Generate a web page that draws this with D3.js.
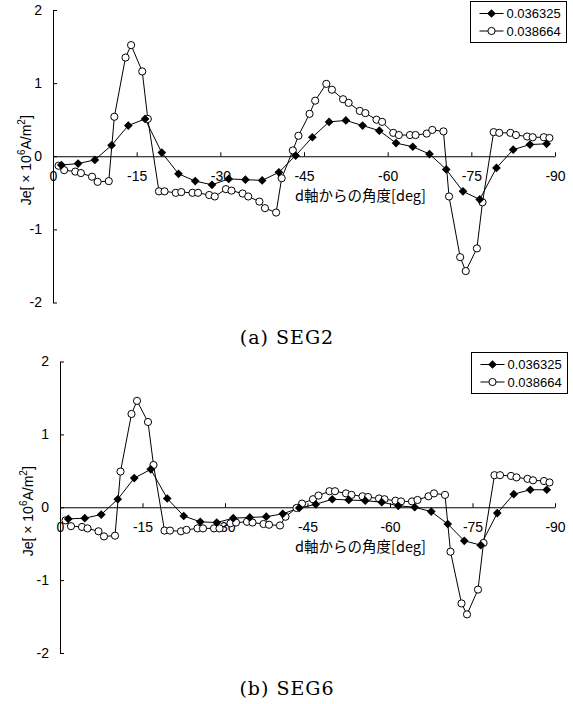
<!DOCTYPE html>
<html>
<head>
<meta charset="utf-8">
<script src="https://cdn.jsdelivr.net/npm/d3@7"></script>
<style>
  body { margin: 0; background: #fff; }
  svg { display: block; }
  .tick text { font-family: "Liberation Sans", Arial, sans-serif; font-size: 14px; }
</style>
</head>
<body>
<svg id="chart" width="573" height="704"></svg>
<script>
// angles of the two series (deg from d axis)
var anglesDiamond = [-1.5, -4.5, -7.5, -10.5, -13.5, -16.5, -19.5, -22.5, -25.5, -28.5,
  -31.5, -34.5, -37.5, -40.5, -43.5, -46.5, -49.5, -52.5, -55.5, -58.5,
  -61.5, -64.5, -67.5, -70.5, -73.5, -76.5, -79.5, -82.5, -85.5, -88.5];

var anglesCircle = [-1, -2, -4, -5, -7, -8, -10, -11, -13, -14, -16, -17, -19, -20,
  -22, -23, -25, -26, -28, -29, -31, -32, -34, -35, -37, -38, -40, -41, -43, -44,
  -46, -47, -49, -50, -52, -53, -55, -56, -58, -59, -61, -62, -64, -65, -67, -68,
  -70, -71, -73, -74, -76, -77, -79, -80, -82, -83, -85, -86, -88, -89];

// (a) SEG2
var seg2Diamond = [-0.12, -0.10, -0.05, 0.15, 0.42, 0.51, 0.05, -0.24, -0.34, -0.39,
  -0.31, -0.32, -0.33, -0.22, 0.01, 0.26, 0.47, 0.49, 0.42, 0.35,
  0.18, 0.13, 0.03, -0.18, -0.48, -0.59, -0.16, 0.09, 0.16, 0.17];

var seg2Circle = [-0.13, -0.19, -0.21, -0.23, -0.28, -0.35, -0.34, 0.54, 1.35, 1.52,
  1.16, 0.51, -0.48, -0.48, -0.50, -0.49, -0.50, -0.50, -0.53, -0.55,
  -0.45, -0.47, -0.51, -0.55, -0.62, -0.71, -0.77, -0.30, 0.08, 0.28,
  0.58, 0.76, 0.99, 0.91, 0.78, 0.73, 0.62, 0.59, 0.50, 0.47,
  0.32, 0.29, 0.29, 0.29, 0.31, 0.36, 0.34, -0.55, -1.38, -1.57,
  -1.26, -0.63, 0.33, 0.32, 0.32, 0.29, 0.27, 0.26, 0.26, 0.25];

// (b) SEG6
var seg6Diamond = [-0.16, -0.15, -0.10, 0.11, 0.40, 0.52, 0.12, -0.12, -0.20, -0.21,
  -0.15, -0.14, -0.13, -0.09, -0.01, 0.04, 0.11, 0.10, 0.09, 0.07,
  0.02, 0.00, -0.06, -0.23, -0.46, -0.52, -0.08, 0.18, 0.24, 0.24];

var seg6Circle = [-0.18, -0.26, -0.27, -0.29, -0.33, -0.40, -0.39, 0.49, 1.28, 1.46,
  1.17, 0.58, -0.32, -0.32, -0.33, -0.31, -0.29, -0.29, -0.29, -0.29,
  -0.22, -0.21, -0.20, -0.21, -0.23, -0.24, -0.25, -0.13, -0.01, 0.05,
  0.11, 0.16, 0.22, 0.22, 0.19, 0.17, 0.15, 0.14, 0.12, 0.11,
  0.09, 0.08, 0.08, 0.10, 0.15, 0.19, 0.17, -0.61, -1.32, -1.47,
  -1.13, -0.49, 0.44, 0.44, 0.43, 0.41, 0.39, 0.37, 0.36, 0.34];

var legendLabels = ['0.036325', '0.038664'];
var xTickValues = [0, -15, -30, -45, -60, -75, -90];
var yTickValues = [2, 1, 0, -1, -2];
var xLabel = 'd軸からの角度[deg]';

var svg = d3.select('#chart');

// square turned 45deg reads as the filled diamond marker
var diamondSym = d3.symbol().type(d3.symbolSquare).size(38);

function diamondAt(px, py) {
  return 'translate(' + px + ',' + py + ') rotate(45)';
}

function drawPanel(opts) {

  var x = d3.scaleLinear().domain([0, -90]).range([opts.left, opts.right]);
  var y = d3.scaleLinear().domain([-2, 2]).range([opts.bottom, opts.top]);

  var g = svg.append('g');

  /**
   * Axes
   */
  g.append('g')
    .attr('transform', 'translate(' + opts.left + ',0)')
    .call(d3.axisLeft(y)
      .tickValues(yTickValues)
      .tickFormat(function (d) { return String(d); })
      .tickSizeInner(-4)
      .tickSizeOuter(0)
      .tickPadding(11));

  g.append('g')
    .attr('transform', 'translate(0,' + y(0) + ')')
    .call(d3.axisBottom(x)
      .tickValues(xTickValues)
      .tickFormat(function (d) { return String(d); })
      .tickSizeInner(-4)
      .tickSizeOuter(0)
      .tickPadding(15));

  g.selectAll('.domain, .tick line').attr('stroke', '#000');

  // y label
  var yl = g.append('text')
    .attr('transform', 'translate(' + opts.labelX + ',' + (y(0) + 4) + ') rotate(-90)')
    .attr('text-anchor', 'middle')
    .style('font-family', '"Liberation Sans", Arial, sans-serif')
    .style('font-size', '14px');
  yl.append('tspan').text('Je[ × 10');
  yl.append('tspan').attr('dy', -6).style('font-size', '10px').text('6');
  yl.append('tspan').attr('dy', 6).text('A/m');
  yl.append('tspan').attr('dy', -6).style('font-size', '10px').text('2');
  yl.append('tspan').attr('dy', 6).text(']');

  // x label
  g.append('text')
    .attr('x', 295)
    .attr('y', y(0) + 45)
    .style('font-family', '"Noto Sans CJK JP", sans-serif')
    .style('font-size', '14.5px')
    .text(xLabel);

  /**
   * Series
   */
  var line = d3.line()
    .x(function (d) { return x(d[0]); })
    .y(function (d) { return y(d[1]); });

  var ptsD = d3.zip(anglesDiamond, opts.diamond);
  var ptsC = d3.zip(anglesCircle, opts.circle);

  g.append('path')
    .datum(ptsD)
    .attr('fill', 'none')
    .attr('stroke', '#000')
    .attr('stroke-width', 1)
    .attr('d', line);

  g.append('path')
    .datum(ptsC)
    .attr('fill', 'none')
    .attr('stroke', '#000')
    .attr('stroke-width', 1)
    .attr('d', line);

  g.selectAll('circle.pt')
    .data(ptsC)
    .enter()
    .append('circle')
    .attr('class', 'pt')
    .attr('cx', function (d) { return x(d[0]); })
    .attr('cy', function (d) { return y(d[1]); })
    .attr('r', 3.6)
    .attr('fill', '#fff')
    .attr('stroke', '#000')
    .attr('stroke-width', 1);

  g.selectAll('path.dm')
    .data(ptsD)
    .enter()
    .append('path')
    .attr('class', 'dm')
    .attr('transform', function (d) { return diamondAt(x(d[0]), y(d[1])); })
    .attr('d', diamondSym)
    .attr('fill', '#000');

  ///////////
  // LEGEND
  var lg = g.append('g')
    .attr('transform', 'translate(' + opts.legendX + ',' + opts.legendY + ')');

  lg.append('rect')
    .attr('width', 96)
    .attr('height', 41)
    .attr('fill', '#fff')
    .attr('stroke', '#000')
    .attr('stroke-width', 1);

  legendLabels.forEach(function (label, i) {
    var row = lg.append('g')
      .attr('transform', 'translate(0,' + (12 + i * 17.5) + ')');

    row.append('line')
      .attr('x1', 9).attr('x2', 33)
      .attr('stroke', '#000');

    if (i === 0) {
      row.append('path').attr('transform', diamondAt(21, 0)).attr('d', diamondSym).attr('fill', '#000');
    } else {
      row.append('circle').attr('cx', 21).attr('r', 3.6)
        .attr('fill', '#fff').attr('stroke', '#000');
    }

    row.append('text')
      .attr('x', 36)
      .attr('dy', '0.36em')
      .style('font-family', '"Liberation Sans", Arial, sans-serif')
      .style('font-size', '13px')
      .text(label);
  });

  // caption
  g.append('text')
    .attr('x', 287)
    .attr('y', opts.captionY)
    .attr('text-anchor', 'middle')
    .style('font-family', '"DejaVu Serif", "Liberation Serif", serif')
    .style('font-size', '19px')
    .style('letter-spacing', '1px')
    .text(opts.caption);
}

drawPanel({
  left: 53, right: 555, top: 10, bottom: 302.5, labelX: 31,
  diamond: seg2Diamond, circle: seg2Circle,
  legendX: 470.5, legendY: 1.5,
  caption: '(a) SEG2', captionY: 344
});

drawPanel({
  left: 60, right: 555, top: 361.5, bottom: 653, labelX: 33,
  diamond: seg6Diamond, circle: seg6Circle,
  legendX: 471.5, legendY: 352.5,
  caption: '(b) SEG6', captionY: 695
});
</script>
</body>
</html>
